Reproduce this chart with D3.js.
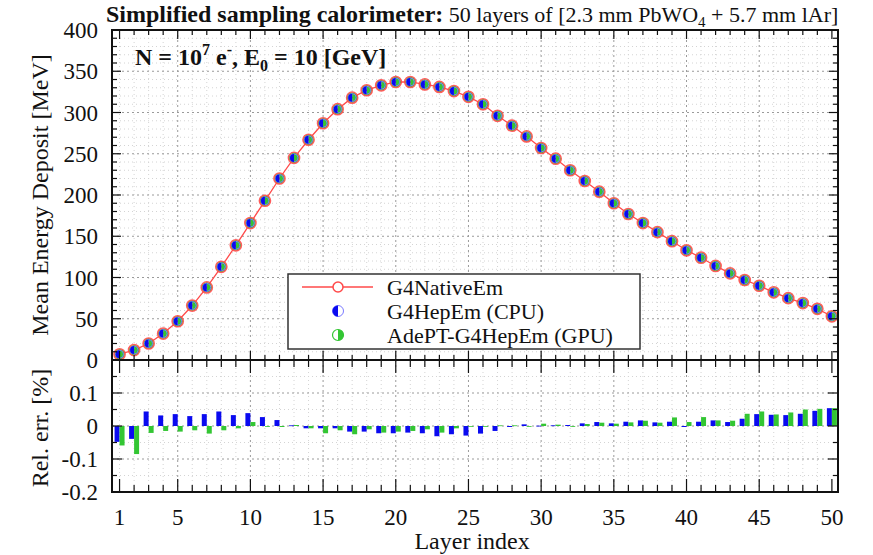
<!DOCTYPE html>
<html><head><meta charset="utf-8">
<script src="https://cdn.jsdelivr.net/npm/d3@7"></script>
<style>body{margin:0;background:#fff}</style>
</head><body><svg id="c" width="873" height="555" font-family="'Liberation Serif', 'DejaVu Serif', 'Times New Roman', serif"></svg>
<script>
// ---------------- data ----------------
const layers = [1,2,3,4,5,6,7,8,9,10,11,12,13,14,15,16,17,18,19,20,21,22,23,24,25,26,27,28,29,30,31,32,33,34,35,36,37,38,39,40,41,42,43,44,45,46,47,48,49,50];
// Mean energy deposit [MeV]
const nativeEdep = [7,12,20,32,47,66,88,113,139,166,193,220,245,267,287,304,318,327,333,337,337,334,331,326,319,310,296,284,271,257,244,230,217,204,190,177,166,155,144,133,124,114,105,97,90,82,75,69,62,53];
const cpuEdep    = [7,12,20,32,47,66,88,113,139,166,193,220,245,267,287,304,318,327,333,337,337,334,331,326,319,310,296,284,271,257,244,230,217,204,190,177,166,155,144,133,124,114,105,97,90,82,75,69,62,53];
const gpuEdep    = [7,12,20,32,47,66,88,113,139,166,193,220,245,267,287,304,318,327,333,337,337,334,331,326,319,310,296,284,271,257,244,230,217,204,190,177,166,155,144,133,124,114,105,97,90,82,75,69,62,53];
// Relative error [%] w.r.t. G4NativeEm
const cpuRelErr = [-0.048,-0.039,0.044,0.032,0.036,0.030,0.036,0.044,0.033,0.039,0.027,0.018,0.002,-0.007,-0.007,-0.007,-0.017,-0.017,-0.022,-0.022,-0.020,-0.022,-0.031,-0.025,-0.029,-0.023,-0.015,-0.003,0.005,0.001,0.002,0.003,0.008,0.012,0.008,0.013,0.017,0.011,0.013,-0.003,0.013,0.017,0.012,0.022,0.036,0.034,0.033,0.037,0.046,0.054];
const gpuRelErr = [-0.059,-0.085,-0.021,-0.015,-0.017,-0.013,-0.023,-0.013,-0.007,0.012,0.000,-0.003,0.003,-0.007,-0.022,-0.013,-0.025,-0.010,-0.020,-0.017,-0.015,-0.010,-0.020,-0.007,0.000,0.000,0.002,0.002,0.000,0.007,0.004,0.000,0.006,0.010,0.007,0.011,0.016,0.010,0.026,0.012,0.027,0.017,0.016,0.037,0.044,0.035,0.041,0.050,0.052,0.054];
const xTickLabels = [1,5,10,15,20,25,30,35,40,45,50];
const yTopTicks = [0,50,100,150,200,250,300,350,400];
const yBotTicks = [-0.2,-0.1,0,0.1];
const seriesNames = ["G4NativeEm","G4HepEm (CPU)","AdePT-G4HepEm (GPU)"];

// ---------------- layout ----------------
const svg = d3.select('#c');
svg.append('rect').attr('width',873).attr('height',555).attr('fill','#fff');
const L=112,R=838,T=30,M=360,B=492;
const x  = d3.scaleLinear().domain([0.48,50.42]).range([L,R]);
const yT = d3.scaleLinear().domain([0,400]).range([M,T]);
const yB = d3.scaleLinear().domain([-0.2,0.2]).range([B,M]);
const RED="#ff4a4a", BLUE="#0a0af0", GREEN="#33c633";
const FONT = "'Liberation Serif', 'DejaVu Serif', 'Times New Roman', serif";

// ---------------- grids ----------------
const g = svg.append('g');
function vgrid(vals, y0, y1, col, dash){
  g.selectAll(null).data(vals).enter().append('line')
   .attr('x1',d=>x(d)).attr('x2',d=>x(d)).attr('y1',y0).attr('y2',y1)
   .attr('stroke',col).attr('stroke-width',1).attr('stroke-dasharray',dash);
}
function hgrid(vals, sc, col, dash){
  g.selectAll(null).data(vals).enter().append('line')
   .attr('x1',L).attr('x2',R).attr('y1',d=>sc(d)).attr('y2',d=>sc(d))
   .attr('stroke',col).attr('stroke-width',1).attr('stroke-dasharray',dash);
}
const minorX = layers.filter(l=>l%5!==0);
const majorX = layers.filter(l=>l%5===0 && l<50);
vgrid(minorX, T, M, "#d4d4d4", "1,3");
vgrid(minorX, M, B, "#d4d4d4", "1,3");
hgrid(d3.range(10,400,10).filter(v=>v%50!==0), yT, "#d4d4d4", "1,3");
hgrid(yTopTicks.filter(v=>v>0&&v<400), yT, "#9a9a9a", "2,3");
hgrid([-0.15,-0.05,0.05,0.15], yB, "#d4d4d4", "1,3");
hgrid([-0.1,0,0.1], yB, "#9a9a9a", "2,3");
vgrid(majorX, T, M, "#9a9a9a", "2,3");
vgrid(majorX, M, B, "#9a9a9a", "2,3");

// ---------------- bars (lower panel) ----------------
const bw = 5;
svg.append('g').selectAll('rect').data(layers).enter().append('rect')
  .attr('x',d=>x(d)-bw).attr('width',bw)
  .attr('y',(d,i)=>Math.min(yB(0),yB(cpuRelErr[i])))
  .attr('height',(d,i)=>Math.max(0.8,Math.abs(yB(cpuRelErr[i])-yB(0))))
  .attr('fill',BLUE);
svg.append('g').selectAll('rect').data(layers).enter().append('rect')
  .attr('x',d=>x(d)).attr('width',bw)
  .attr('y',(d,i)=>Math.min(yB(0),yB(gpuRelErr[i])))
  .attr('height',(d,i)=>Math.max(0.8,Math.abs(yB(gpuRelErr[i])-yB(0))))
  .attr('fill',GREEN);

// ---------------- markers helpers ----------------
function halfPath(cx,cy,r,side){ // side 'L' or 'R'
  const sw = side==='L'?0:1;
  return `M${cx},${cy-r}A${r},${r} 0 0 ${sw} ${cx},${cy+r}Z`;
}
function cpuMarker(sel,cx,cy,r){
  sel.append('circle').attr('cx',cx).attr('cy',cy).attr('r',r).attr('fill','none').attr('stroke','#7a7aff').attr('stroke-width',1);
  sel.append('path').attr('d',halfPath(cx,cy,r,'L')).attr('fill',BLUE);
}
function gpuMarker(sel,cx,cy,r){
  sel.append('circle').attr('cx',cx).attr('cy',cy).attr('r',r).attr('fill','none').attr('stroke',GREEN).attr('stroke-width',1.2);
  sel.append('path').attr('d',halfPath(cx,cy,r,'R')).attr('fill',GREEN);
}
function nativeMarker(sel,cx,cy){
  sel.append('circle').attr('cx',cx).attr('cy',cy).attr('r',5.6).attr('fill','none').attr('stroke',RED).attr('stroke-width',1.5).attr('stroke-opacity',0.9);
}

// ---------------- top panel series ----------------
const line = d3.line().x((d,i)=>x(layers[i])).y(d=>yT(d));
svg.append('path').datum(nativeEdep).attr('d',line).attr('fill','none').attr('stroke',RED).attr('stroke-width',1.3);
const mk = svg.append('g');
layers.forEach((l,i)=>{
  const gm = mk.append('g');
  gpuMarker(gm, x(l), yT(gpuEdep[i]), 4.6);
  cpuMarker(gm, x(l), yT(cpuEdep[i]), 4);
  nativeMarker(gm, x(l), yT(nativeEdep[i]));
});

// ---------------- frames & ticks ----------------
const ax = svg.append('g').attr('stroke','#111');
function tick(x1,y1,x2,y2,w){ ax.append('line').attr('x1',x1).attr('y1',y1).attr('x2',x2).attr('y2',y2).attr('stroke-width',w||1.2); }
layers.forEach(l=>{
  const maj = xTickLabels.includes(l);
  const lt = maj?9:5, lb = maj?13:7;
  tick(x(l),T,x(l),T+lt);
  tick(x(l),M,x(l),M-lt);
  tick(x(l),M,x(l),M+lb);
  tick(x(l),B,x(l),B-lb);
});
d3.range(0,401,10).forEach(v=>{
  const maj = v%50===0, len = maj?9:5;
  tick(L,yT(v),L+len,yT(v)); tick(R,yT(v),R-len,yT(v));
});
d3.range(-0.2,0.2001,0.05).forEach(v=>{
  const maj = Math.abs(Math.round(v*20))%2===0, len = maj?10:5;
  tick(L,yB(v),L+len,yB(v)); tick(R,yB(v),R-len,yB(v));
});
svg.append('rect').attr('x',L).attr('y',T).attr('width',R-L).attr('height',M-T).attr('fill','none').attr('stroke','#111').attr('stroke-width',2);
svg.append('rect').attr('x',L).attr('y',M).attr('width',R-L).attr('height',B-M).attr('fill','none').attr('stroke','#111').attr('stroke-width',2);

// ---------------- tick labels ----------------
const lab = svg.append('g').attr('font-family',FONT).attr('font-size',23).attr('fill','#111');
lab.selectAll(null).data(yTopTicks).enter().append('text')
  .attr('x',98).attr('y',d=>yT(d)+8).attr('text-anchor','end').text(d=>d);
lab.selectAll(null).data(yBotTicks).enter().append('text')
  .attr('x',98).attr('y',d=>yB(d)+8).attr('text-anchor','end').text(d=>d===0?"0":d.toFixed(1));
lab.selectAll(null).data(xTickLabels).enter().append('text')
  .attr('x',d=>x(d)).attr('y',525).attr('text-anchor','middle').text(d=>d);

// ---------------- axis titles ----------------
const tx = svg.append('g').attr('font-family',FONT).attr('font-size',24).attr('fill','#111');
tx.append('text').attr('x',x(25.25)).attr('y',549).attr('text-anchor','middle').text('Layer index');
tx.append('text').attr('transform','translate(48,195) rotate(-90)').attr('text-anchor','middle').text('Mean Energy Deposit [MeV]');
tx.append('text').attr('transform','translate(48,428) rotate(-90)').attr('text-anchor','middle').text('Rel. err. [%]');

// ---------------- title ----------------
const tt = tx.append('text').attr('x',106).attr('y',22);
tt.append('tspan').attr('font-size',24).attr('font-weight','bold').text('Simplified sampling calorimeter:');
tt.append('tspan').attr('font-size',22).text(' 50 layers of [2.3 mm PbWO');
tt.append('tspan').attr('font-size',15).attr('dy',5).text('4');
tt.append('tspan').attr('font-size',22).attr('dy',-5).text(' + 5.7 mm lAr]');

// ---------------- annotation ----------------
const an = tx.append('text').attr('x',135).attr('y',65).attr('font-size',24).attr('font-weight','bold');
an.append('tspan').text('N = 10');
an.append('tspan').attr('font-size',16).attr('dy',-10).text('7');
an.append('tspan').attr('dy',10).text(' e');
an.append('tspan').attr('font-size',16).attr('dy',-10).text('-');
an.append('tspan').attr('dy',10).text(', E');
an.append('tspan').attr('font-size',16).attr('dy',6).text('0');
an.append('tspan').attr('dy',-6).text(' = 10 [GeV]');

// ---------------- legend ----------------
const lg = svg.append('g');
lg.append('rect').attr('x',288).attr('y',274).attr('width',352).attr('height',75).attr('fill','#fff').attr('stroke','#333').attr('stroke-width',1.5);
const rowsY = [287,311,335];
lg.append('line').attr('x1',302).attr('x2',373).attr('y1',rowsY[0]).attr('y2',rowsY[0]).attr('stroke',RED).attr('stroke-width',1.3);
lg.append('circle').attr('cx',338).attr('cy',rowsY[0]).attr('r',5).attr('fill','#fff').attr('stroke',RED).attr('stroke-width',1.5);
cpuMarker(lg,338,rowsY[1],5.5);
gpuMarker(lg,338,rowsY[2],5.5);
lg.selectAll(null).data(seriesNames).enter().append('text')
  .attr('font-family',FONT).attr('font-size',22).attr('fill','#111')
  .attr('x',387).attr('y',(d,i)=>rowsY[i]+8).text(d=>d);
</script></body></html>
